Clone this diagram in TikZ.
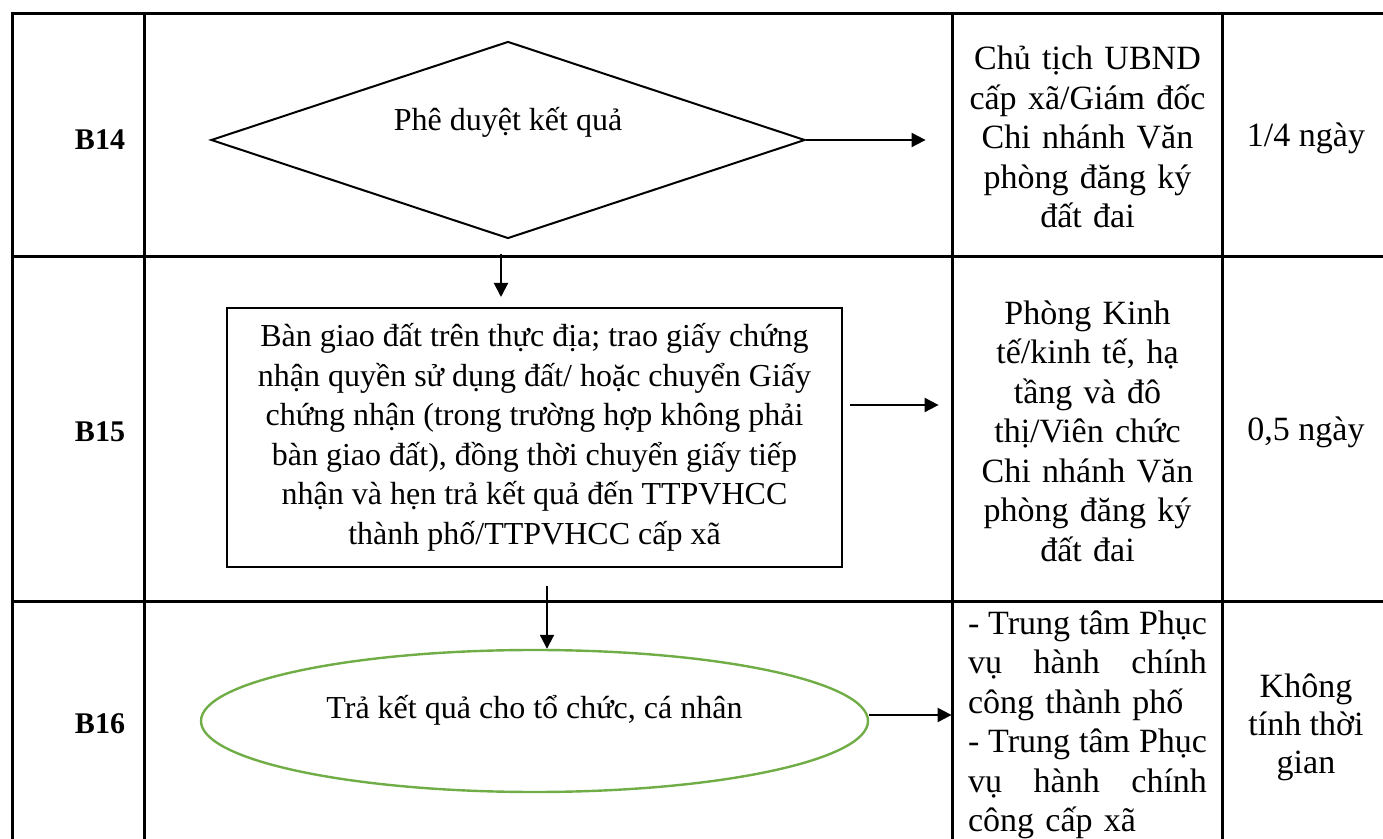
\documentclass[tikz,border=0pt]{standalone}
\usepackage{fontspec}
\setmainfont{Liberation Serif}
\usetikzlibrary{positioning,shapes.geometric,arrows.meta}
\definecolor{EndGreen}{RGB}{112,173,71}
\newcommand{\tightline}[1]{\makebox[119.5pt][s]{\spaceskip=0.19em plus 0.3em\relax #1}}

\begin{document}
\begin{tikzpicture}[
  x=0.5pt, y=-0.5pt,
  every node/.style={font=\fontsize{16}{19.75}\selectfont},
  rowlabel/.style={font=\fontsize{15}{18}\selectfont\bfseries, inner sep=0pt},
  decision/.style={diamond, draw, line width=1pt, minimum width=297pt, minimum height=98.5pt, inner sep=0pt},
  taskbox/.style={draw, line width=1pt, minimum width=307.5pt, minimum height=129.5pt, align=center, inner sep=0pt},
  endpoint/.style={ellipse, draw=EndGreen, line width=1.2pt, minimum width=333.5pt, minimum height=71pt, inner sep=0pt},
  actor/.style={text width=119.5pt, align=center, inner sep=0pt, font=\fontsize{17}{19.75}\selectfont},
  duration/.style={align=center, inner sep=0pt, font=\fontsize{17}{19}\selectfont},
  gridline/.style={line width=1.5pt},
  arrow/.style={-{Triangle[length=7pt,width=7pt]}, line width=1pt}
]
\useasboundingbox (0,0) rectangle (1383,839);

% table rules
\draw[gridline] (12,839) -- (12,14) -- (1383,14);
\foreach \y in {257,602} \draw[gridline] (12,\y) -- (1383,\y);
\foreach \x in {144,952,1222} \draw[gridline] (\x,14) -- (\x,839);

% step numbers
\node[rowlabel] (b14) at (100,140) {B14};
\node[rowlabel] (b15) at (100,432) {B15};
\node[rowlabel] (b16) at (100,724) {B16};

% flow shapes
\node[decision, label={[yshift=9pt]center:Phê duyệt kết quả}] (d14) at (508,140) {};
\node[taskbox] (t15) at (534.5,437.5) {Bàn giao đất trên thực địa; trao giấy chứng\\
  nhận quyền sử dụng đất/ hoặc chuyển Giấy\\
  chứng nhận (trong trường hợp không phải\\
  bàn giao đất), đồng thời chuyển giấy tiếp\\
  nhận và hẹn trả kết quả đến TTPVHCC\\
  thành phố/TTPVHCC cấp xã};
\node[endpoint, label={[yshift=5.5pt]center:Trả kết quả cho tổ chức, cá nhân}] (e16) at (534.5,721) {};

% who
\node[actor] (r14) at (1087.5,137) {Chủ tịch UBND\\ cấp xã/Giám đốc\\ Chi nhánh Văn\\ phòng đăng ký\\ đất đai};
\node[actor] (r15) at (1087.5,431) {Phòng Kinh\\ tế/kinh tế, hạ\\ tầng và đô\\ thị/Viên chức\\ Chi nhánh Văn\\ phòng đăng ký\\ đất đai};
\node[actor, align=left] (r16) at (1087.5,725) {\tightline{- Trung tâm Phục}\\ vụ\hfill hành\hfill chính\\ công thành phố\\ \tightline{- Trung tâm Phục}\\ vụ\hfill hành\hfill chính\\ công cấp xã};

% time
\node[duration] (m14) at (1306,138) {1/4 ngày};
\node[duration] (m15) at (1306,432) {0,5 ngày};
\node[duration] (m16) at (1306,727) {Không\\ tính thời\\ gian};

% connectors
\draw[arrow, shorten >=21pt] (d14.east) -- (d14.east -| r14.west);
\draw[arrow, shorten <=7.25pt, shorten >=5pt] ([xshift=-3.5pt]d14.south) -- ([xshift=-3.5pt]d14.south |- t15.north);
\draw[arrow, shorten <=3.5pt, shorten >=14.5pt] ([yshift=16.25pt]t15.east) -- ([yshift=16.25pt]t15.east -| r15.west);
\draw[arrow, shorten <=9pt] ([xshift=6.25pt]t15.south) -- ([xshift=6.25pt]t15.south |- e16.north);
\draw[arrow, shorten >=8pt] ([yshift=3pt]e16.east) -- ([yshift=3pt]e16.east -| r16.west);
\end{tikzpicture}
\end{document}
